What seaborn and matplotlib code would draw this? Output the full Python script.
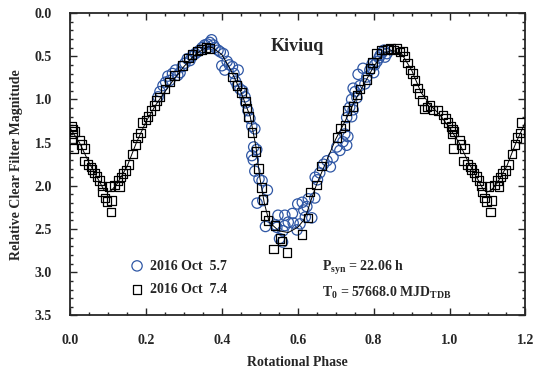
import numpy as np
import pandas as pd
import matplotlib
matplotlib.use("Agg")
import matplotlib.pyplot as plt
import seaborn as sns

# --- data ---
# 2016 Oct 7.4 (squares), phase 0..1; points below 0.2 are repeated at +1
sq_phase = [0.004, 0.008, 0.012, 0.006, 0.010, 0.026, 0.030, 0.040, 0.037, 0.048,
            0.055, 0.058, 0.064, 0.071, 0.078, 0.084, 0.085, 0.092, 0.097, 0.110,
            0.108, 0.104, 0.118, 0.126, 0.130, 0.134, 0.140, 0.148, 0.156, 0.165,
            0.172, 0.178, 0.186, 0.190, 0.200, 0.206, 0.214, 0.222, 0.228, 0.236,
            0.250, 0.262, 0.276, 0.296, 0.312, 0.322, 0.336, 0.346, 0.358, 0.368,
            0.428, 0.440, 0.452, 0.462, 0.466, 0.471, 0.480, 0.490, 0.496, 0.505,
            0.508, 0.514, 0.522, 0.540, 0.536, 0.553, 0.558, 0.572, 0.611, 0.627,
            0.632, 0.650, 0.663, 0.703, 0.712, 0.724, 0.730, 0.746, 0.756, 0.764,
            0.782, 0.790, 0.797, 0.808, 0.820, 0.836, 0.845, 0.852, 0.861, 0.870,
            0.877, 0.882, 0.889, 0.896, 0.903, 0.909, 0.916, 0.921, 0.928, 0.933,
            0.940, 0.948, 0.956, 0.970, 0.983, 0.990, 0.996]
sq_mag = [1.31, 1.34, 1.37, 1.40, 1.57, 1.47, 1.52, 1.57, 1.71, 1.75,
          1.78, 1.81, 1.85, 1.89, 1.94, 2.00, 2.07, 2.14, 2.18, 2.17,
          2.30, 2.01, 1.99, 1.94, 2.01, 1.90, 1.86, 1.82, 1.75, 1.63,
          1.52, 1.44, 1.39, 1.27, 1.24, 1.20, 1.13, 1.07, 1.01, 0.97,
          0.88, 0.80, 0.72, 0.61, 0.52, 0.48, 0.44, 0.42, 0.40, 0.41,
          0.74, 0.84, 0.92, 1.02, 1.10, 1.20, 1.38, 1.60, 1.80, 2.02,
          2.16, 2.34, 2.40, 2.46, 2.73, 2.61, 2.64, 2.77, 2.56, 2.37,
          2.07, 1.99, 1.77, 1.44, 1.33, 1.30, 1.13, 1.08, 0.95, 0.88,
          0.77, 0.64, 0.57, 0.47, 0.43, 0.42, 0.41, 0.43, 0.41, 0.45,
          0.44, 0.50, 0.58, 0.66, 0.70, 0.78, 0.87, 0.93, 1.01, 1.11,
          1.09, 1.07, 1.12, 1.13, 1.18, 1.22, 1.27]

# 2016 Oct 5.7 (circles)
ci_phase = [0.232, 0.237, 0.245, 0.252, 0.258, 0.263, 0.270, 0.278, 0.284, 0.290,
            0.296, 0.303, 0.309, 0.316, 0.322, 0.330, 0.336, 0.342, 0.348, 0.355,
            0.362, 0.368, 0.373, 0.378, 0.382, 0.390, 0.396, 0.404, 0.400, 0.408,
            0.414, 0.420, 0.428, 0.432, 0.443, 0.436, 0.441, 0.448, 0.455, 0.461,
            0.463, 0.469, 0.474, 0.479, 0.487, 0.484, 0.479, 0.492, 0.483, 0.487,
            0.498, 0.506, 0.520, 0.493, 0.508, 0.515, 0.541, 0.548, 0.566, 0.586,
            0.600, 0.545, 0.566, 0.575, 0.588, 0.598, 0.606, 0.561, 0.552, 0.560,
            0.612, 0.616, 0.624, 0.628, 0.620, 0.637, 0.645, 0.646, 0.652, 0.658,
            0.668, 0.677, 0.686, 0.693, 0.703, 0.711, 0.719, 0.729, 0.732, 0.724,
            0.729, 0.742, 0.737, 0.746, 0.742, 0.756, 0.751, 0.746, 0.764, 0.759,
            0.772, 0.777, 0.782, 0.790, 0.796, 0.800, 0.803, 0.809, 0.814, 0.817,
            0.822, 0.827, 0.830, 0.835]
ci_mag = [0.97, 0.91, 0.84, 0.80, 0.73, 0.78, 0.70, 0.66, 0.72, 0.69,
          0.62, 0.58, 0.53, 0.55, 0.50, 0.47, 0.45, 0.43, 0.40, 0.37,
          0.36, 0.34, 0.31, 0.37, 0.40, 0.43, 0.45, 0.47, 0.61, 0.66,
          0.56, 0.60, 0.62, 0.70, 0.66, 0.79, 0.84, 0.88, 0.90, 0.97,
          1.04, 1.13, 1.22, 1.31, 1.34, 1.55, 1.65, 1.58, 1.70, 1.83,
          1.92, 1.94, 2.05, 2.20, 2.17, 2.47, 2.45, 2.34, 2.34, 2.32,
          2.21, 2.48, 2.46, 2.42, 2.43, 2.51, 2.44, 2.52, 2.61, 2.65,
          2.19, 2.28, 2.24, 2.15, 2.36, 2.37, 2.14, 1.90, 1.93, 1.85,
          1.75, 1.71, 1.78, 1.67, 1.55, 1.59, 1.49, 1.53, 1.43, 1.40,
          1.21, 1.20, 1.09, 1.12, 1.00, 0.98, 0.91, 0.87, 0.84, 0.71,
          0.64, 0.82, 0.74, 0.66, 0.59, 0.69, 0.60, 0.56, 0.52, 0.49,
          0.46, 0.43, 0.51, 0.47]

# fitted curve, phase 0..1 (repeated at +1 up to 1.2)
fit_phase = [0.000, 0.025, 0.050, 0.075, 0.090, 0.100, 0.110, 0.125, 0.150, 0.175,
             0.200, 0.225, 0.250, 0.275, 0.300, 0.325, 0.350, 0.365, 0.375, 0.400,
             0.425, 0.450, 0.475, 0.490, 0.500, 0.512, 0.525, 0.550, 0.575, 0.600,
             0.615, 0.625, 0.637, 0.650, 0.675, 0.700, 0.725, 0.750, 0.775, 0.800,
             0.825, 0.850, 0.875, 0.900, 0.925, 0.950, 0.975, 1.000]
fit_mag = [1.33, 1.50, 1.73, 1.93, 2.05, 2.07, 2.05, 1.97, 1.78, 1.50,
           1.26, 1.07, 0.91, 0.76, 0.62, 0.50, 0.42, 0.39, 0.40, 0.48,
           0.67, 0.91, 1.20, 1.55, 1.90, 2.20, 2.42, 2.52, 2.54, 2.48,
           2.40, 2.30, 2.14, 1.98, 1.72, 1.46, 1.25, 1.02, 0.82, 0.62,
           0.47, 0.43, 0.48, 0.66, 0.92, 1.07, 1.18, 1.33]

x_ticks = [0.0, 0.2, 0.4, 0.6, 0.8, 1.0, 1.2]
y_ticks = [0.0, 0.5, 1.0, 1.5, 2.0, 2.5, 3.0, 3.5]

BLUE = '#2f57a5'


def wrap(phase, mag, upto=0.2, include_zero=True):
    """Repeat the start of the phase curve beyond 1.0 (usual lightcurve convention)."""
    df = pd.DataFrame({'phase': phase, 'mag': mag})
    extra = df[(df['phase'] < upto) & ((df['phase'] > 0) | include_zero)].copy()
    extra['phase'] += 1.0
    return pd.concat([df, extra], ignore_index=True)


def main():
    sns.set_style('ticks')
    plt.rcParams['font.family'] = ['Liberation Serif', 'DejaVu Serif']
    plt.rcParams['font.weight'] = 'bold'
    plt.rcParams['axes.labelweight'] = 'bold'

    squares = wrap(sq_phase, sq_mag)
    circles = pd.DataFrame({'phase': ci_phase, 'mag': ci_mag})
    fit = wrap(fit_phase, fit_mag, upto=0.2001, include_zero=False).sort_values('phase')

    fig = plt.figure(figsize=(5.35, 3.75), dpi=100)
    ax = fig.add_axes([0.1308, 0.1587, 0.8514, 0.8066])

    sns.scatterplot(data=circles, x='phase', y='mag', ax=ax, marker='o', s=55,
                    facecolors='none', edgecolor=BLUE, linewidth=0.9,
                    label='2016 Oct  5.7', zorder=2)
    sns.scatterplot(data=squares, x='phase', y='mag', ax=ax, marker='s', s=38,
                    facecolors='none', edgecolor='black', linewidth=0.9,
                    label='2016 Oct  7.4', zorder=3)
    sns.lineplot(data=fit, x='phase', y='mag', ax=ax, color='black', lw=0.7,
                 estimator=None, sort=False, zorder=4)

    ax.set_xlim(0, 1.2)
    ax.set_ylim(3.5, 0.0)
    ax.set_xticks(x_ticks)
    ax.set_yticks(y_ticks)
    ax.set_xticklabels([f'{t:.1f}' for t in x_ticks])
    ax.set_yticklabels([f'{t:.1f}' for t in y_ticks])
    ax.set_xticks(np.arange(0, 1.2001, 0.05), minor=True)
    ax.set_yticks(np.arange(0, 3.5001, 0.1), minor=True)
    ax.tick_params(which='both', direction='in', top=True, right=True, width=1.0)
    ax.tick_params(which='major', length=5, labelsize=10, pad=13)
    ax.tick_params(which='minor', length=2.5)
    for sp in ax.spines.values():
        sp.set_linewidth(1.3)

    ax.set_xlabel('Rotational Phase', fontsize=10, labelpad=7)
    ax.set_ylabel('Relative Clear Filter Magnitude', fontsize=10, labelpad=8)

    ax.text(0.50, 0.888, 'Kiviuq', transform=ax.transAxes, fontsize=13,
            fontweight='bold', ha='center', va='center')
    ax.text(0.553, 0.157, r'P$_\mathregular{syn}$ = 22.06 h', transform=ax.transAxes,
            fontsize=10, fontweight='bold', ha='left', va='center')
    ax.text(0.553, 0.074, r'T$_\mathregular{0}$ = 57668.0 MJD$_\mathregular{TDB}$',
            transform=ax.transAxes, fontsize=10, fontweight='bold', ha='left', va='center')

    leg = ax.legend(loc='upper left', bbox_to_anchor=(0.132, 0.185), frameon=False,
                    fontsize=10, handlelength=1.0, handletextpad=0.45,
                    labelspacing=0.75, borderpad=0, borderaxespad=0)
    for t in leg.get_texts():
        t.set_fontweight('bold')

    fig.savefig('out.png', dpi=100)
    plt.close(fig)


if __name__ == '__main__':
    main()
